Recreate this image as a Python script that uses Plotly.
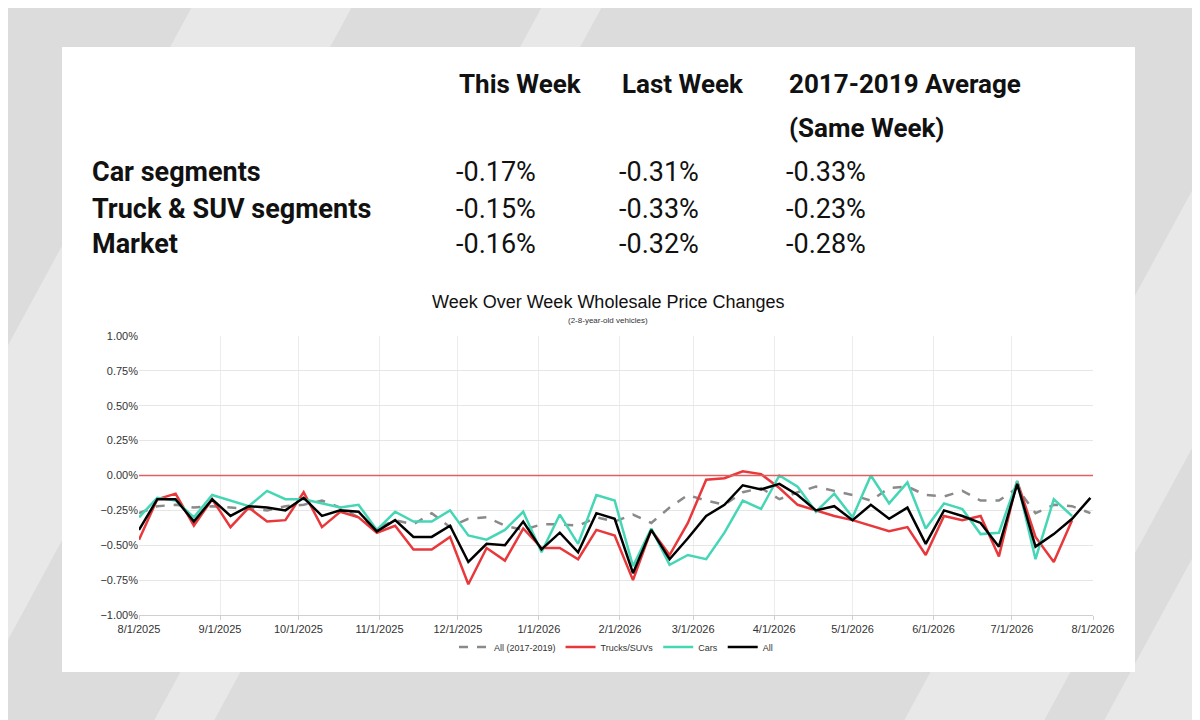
import pandas as pd
import plotly.graph_objects as go

# table data
col_heads = ["This Week", "Last Week", "2017-2019 Average"]
col_sub = ["", "", "(Same Week)"]
row_labels = ["Car segments", "Truck & SUV segments", "Market"]
this_week = ["-0.17%", "-0.15%", "-0.16%"]
last_week = ["-0.31%", "-0.33%", "-0.32%"]
avg_1719 = ["-0.33%", "-0.23%", "-0.28%"]

# weekly series (percent), 53 weeks starting 8/1/2025
weeks = pd.date_range("2025-08-01", periods=53, freq="7D")
all_1719 = [-0.27, -0.22, -0.21, -0.23, -0.22, -0.23, -0.24, -0.25, -0.22, -0.21,
            -0.18, -0.23, -0.30, -0.38, -0.32, -0.35, -0.27, -0.37, -0.31, -0.30,
            -0.36, -0.39, -0.35, -0.35, -0.36, -0.30, -0.33, -0.28, -0.34, -0.23,
            -0.14, -0.18, -0.21, -0.12, -0.09, -0.17, -0.12, -0.08, -0.11, -0.14,
            -0.18, -0.09, -0.08, -0.14, -0.15, -0.11, -0.18, -0.18, -0.09, -0.27,
            -0.21, -0.22, -0.27]
trucks = [-0.46, -0.17, -0.13, -0.36, -0.17, -0.37, -0.23, -0.33, -0.32, -0.12,
          -0.37, -0.26, -0.30, -0.41, -0.36, -0.53, -0.53, -0.44, -0.78, -0.52,
          -0.61, -0.38, -0.52, -0.52, -0.60, -0.39, -0.43, -0.75, -0.39, -0.57,
          -0.34, -0.03, -0.02, 0.03, 0.01, -0.09, -0.21, -0.25, -0.29, -0.32,
          -0.36, -0.40, -0.37, -0.57, -0.29, -0.32, -0.29, -0.58, -0.04, -0.44,
          -0.62, -0.32, None]
cars = [-0.30, -0.16, -0.18, -0.30, -0.14, -0.18, -0.22, -0.11, -0.17, -0.17,
        -0.20, -0.23, -0.21, -0.39, -0.26, -0.33, -0.33, -0.25, -0.43, -0.46,
        -0.39, -0.26, -0.55, -0.28, -0.49, -0.14, -0.18, -0.65, -0.38, -0.64,
        -0.57, -0.60, -0.41, -0.18, -0.24, 0.00, -0.08, -0.26, -0.13, -0.30,
        0.00, -0.20, -0.05, -0.38, -0.20, -0.24, -0.42, -0.41, -0.04, -0.60,
        -0.17, -0.29, None]
all_now = [-0.39, -0.17, -0.17, -0.33, -0.17, -0.29, -0.22, -0.23, -0.25, -0.16,
           -0.29, -0.25, -0.26, -0.40, -0.32, -0.44, -0.44, -0.36, -0.62, -0.49,
           -0.50, -0.33, -0.53, -0.41, -0.55, -0.27, -0.31, -0.70, -0.39, -0.60,
           -0.45, -0.29, -0.21, -0.07, -0.10, -0.06, -0.14, -0.25, -0.22, -0.32,
           -0.21, -0.31, -0.23, -0.49, -0.25, -0.29, -0.34, -0.51, -0.06, -0.51,
           -0.42, -0.31, -0.16]


def pct(vals):
    return [None if v is None else v / 100 for v in vals]


fig = go.Figure()

fig.add_trace(go.Scatter(x=weeks, y=pct(all_1719), name="All (2017-2019)",
                         mode="lines", line=dict(color="#8a8a8a", width=2.5, dash="dash")))
fig.add_trace(go.Scatter(x=weeks, y=pct(trucks), name="Trucks/SUVs",
                         mode="lines", line=dict(color="#e8383b", width=2.5)))
fig.add_trace(go.Scatter(x=weeks, y=pct(cars), name="Cars",
                         mode="lines", line=dict(color="#45d6b5", width=2.5)))
fig.add_trace(go.Scatter(x=weeks, y=pct(all_now), name="All",
                         mode="lines", line=dict(color="#000000", width=2.5)))

# page offset: the figure sits 8px in from the page corner
OFF = 8
PL, PR, PT, PB = 139, 1093, 336, 615


def px(xp, yp):
    # page pixels -> paper coords
    return (xp - PL) / (PR - PL), (PB - yp) / (PB - PT)


# diagonal light stripes in the grey background
for x0p, w in [(-200, 160), (150, 60), (900, 140), (1100, 90)]:
    a = px(x0p, 720 + OFF)
    b = px(x0p + w, 720 + OFF)
    c = px(x0p + w + 400, -OFF)
    d = px(x0p + 400, -OFF)
    fig.add_shape(type="path", xref="paper", yref="paper", layer="below",
                  path=f"M {a[0]} {a[1]} L {b[0]} {b[1]} L {c[0]} {c[1]} L {d[0]} {d[1]} Z",
                  fillcolor="rgba(255,255,255,0.35)", line=dict(width=0))

# white card
c0 = px(62, 672)
c1 = px(1135, 47)
fig.add_shape(type="rect", xref="paper", yref="paper", layer="below",
              x0=c0[0], x1=c1[0], y0=c0[1], y1=c1[1],
              fillcolor="white", line=dict(width=0))
# zero line
fig.add_shape(type="line", xref="paper", yref="y", x0=0, x1=1, y0=0, y1=0,
              line=dict(color="#e06060", width=1.5))

font_t = "Roboto, Arial, sans-serif"
col_x = [457, 620, 787]
for j, head in enumerate(col_heads):
    for text, yy in [(head, 84), (col_sub[j], 128)]:
        if not text:
            continue
        x, y = px(col_x[j], yy)
        fig.add_annotation(x=x, y=y, xref="paper", yref="paper", text="<b>" + text + "</b>",
                           showarrow=False, xanchor="left", yanchor="middle",
                           font=dict(family=font_t, size=26, color="#111"))
row_y = [172, 209, 244]
for i, lab in enumerate(row_labels):
    x, y = px(90, row_y[i])
    fig.add_annotation(x=x, y=y, xref="paper", yref="paper", text="<b>" + lab + "</b>",
                       showarrow=False, xanchor="left", yanchor="middle",
                       font=dict(family=font_t, size=27, color="#111"))
    for j, vals in enumerate([this_week, last_week, avg_1719]):
        x, y = px(col_x[j] - 3, row_y[i])
        fig.add_annotation(x=x, y=y, xref="paper", yref="paper", text=vals[i],
                           showarrow=False, xanchor="left", yanchor="middle",
                           font=dict(family=font_t, size=27, color="#111"))

# chart titles
x, y = px(608, 302)
fig.add_annotation(x=x, y=y, xref="paper", yref="paper", text="Week Over Week Wholesale Price Changes",
                   showarrow=False, yanchor="middle",
                   font=dict(family="Liberation Sans, Arial", size=18, color="#111"))
x, y = px(608, 320)
fig.add_annotation(x=x, y=y, xref="paper", yref="paper", text="(2-8-year-old vehicles)",
                   showarrow=False, yanchor="middle",
                   font=dict(family="Liberation Sans, Arial", size=8, color="#333"))

ticks = pd.date_range("2025-08-01", "2026-08-01", freq="MS")
fig.update_layout(
    width=1200, height=720,
    paper_bgcolor="#dcdcdc", plot_bgcolor="white",
    margin=dict(l=PL - OFF, r=1200 - PR + OFF, t=PT - OFF, b=720 - PB + OFF),
    showlegend=True,
    legend=dict(orientation="h", x=0.5, xanchor="center", y=px(0, 647)[1], yanchor="middle",
                font=dict(family="Liberation Sans, Arial", size=9, color="#333"),
                bgcolor="rgba(0,0,0,0)"),
    xaxis=dict(range=["2025-08-01", "2026-08-01"], tickvals=ticks,
               ticktext=[f"{d.month}/{d.day}/{d.year}" for d in ticks],
               showgrid=True, gridcolor="#ececec", zeroline=False, showline=True,
               linecolor="#d0d0d0", ticks="outside", tickcolor="#d0d0d0", ticklen=4,
               tickfont=dict(family="Liberation Sans, Arial", size=11, color="#333")),
    yaxis=dict(range=[-0.01, 0.01], dtick=0.0025, tickformat=".2%",
               showgrid=True, gridcolor="#e6e6e6", zeroline=False,
               tickfont=dict(family="Liberation Sans, Arial", size=11, color="#333")),
)

fig.write_html("out.html")
